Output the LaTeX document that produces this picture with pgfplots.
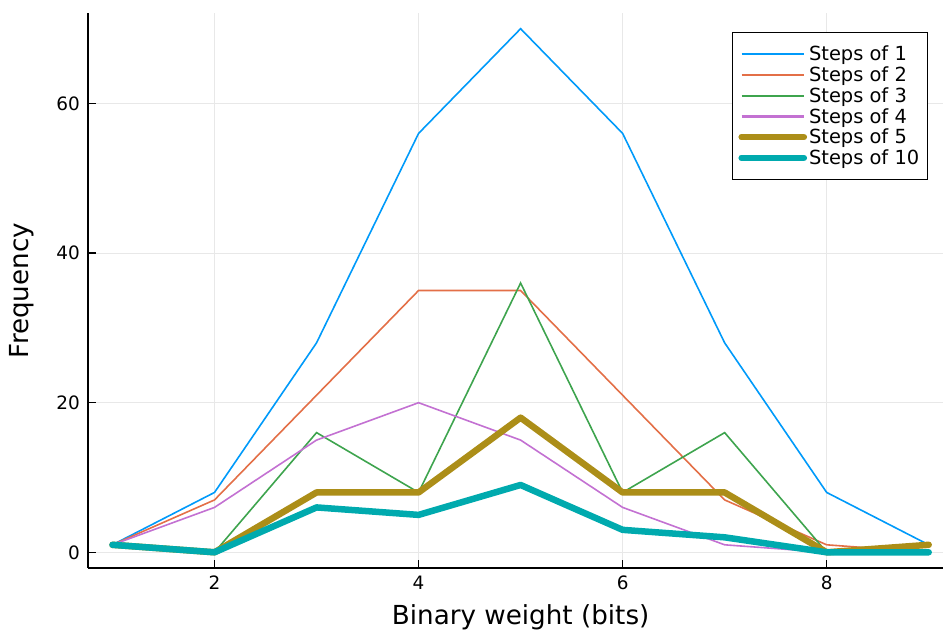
\documentclass[border=0pt]{standalone}
\usepackage{fontspec}
\setmainfont{DejaVu Sans}
\usepackage{pgfplots}
\pgfplotsset{compat=1.18}
\definecolor{c1}{HTML}{009AFA}
\definecolor{c2}{HTML}{E36F47}
\definecolor{c3}{HTML}{3EA44E}
\definecolor{c4}{HTML}{C371D2}
\definecolor{c5}{HTML}{AC8E18}
\definecolor{c6}{HTML}{00AAAE}
\begin{document}
\begin{tikzpicture}
\path[use as bounding box] (0bp,0bp) rectangle (943bp,633bp);
\begin{axis}[
  at={(88bp,65bp)}, anchor=south west,
  scale only axis, width=855bp, height=555bp,
  xmin=0.76, xmax=9.14, ymin=-2.1, ymax=72.1,
  axis lines*=left,
  axis line style={black, line width=1.2bp},
  xtick={2,4,6,8}, ytick={0,20,40,60},
  tick align=inside, major tick length=8bp,
  tick style={black, line width=1.2bp},
  grid=major, major grid style={black!9, line width=0.8bp},
  /pgf/number format/assume math mode=true,
  tick label style={font=\fontsize{18.5}{20}\selectfont},
  xticklabel style={anchor=center, yshift=-15bp, inner sep=0pt},
  yticklabel style={anchor=east, xshift=-8bp, inner sep=0pt},
  xlabel={Binary weight (bits)},
  ylabel={Frequency},
  label style={font=\fontsize{26.3}{28}\selectfont},
  xlabel style={at={(axis description cs:0.506,-0.0883)}, anchor=center},
  ylabel style={at={(axis description cs:-0.0772,0.5)}, anchor=center, rotate=0},
  legend cell align=left,
  legend style={at={(axis description cs:0.7532,0.9658)}, anchor=north west,
    draw=black, line width=1.2bp, font=\fontsize{19.5}{21}\selectfont,
    inner xsep=6bp, inner ysep=11.5bp, row sep=0.5bp},
  legend image code/.code={\path (0bp,0bp) -- (62bp,0bp);\draw[#1] (0bp,0bp) -- (58bp,0bp);},
]
\addplot[c1, line width=1.6bp, legend image post style={line width=2.2bp}] coordinates {(1,1) (2,8) (3,28) (4,56) (5,70) (6,56) (7,28) (8,8) (9,1)};
\addlegendentry{Steps of 1}
\addplot[c2, line width=1.6bp, legend image post style={line width=2.2bp}] coordinates {(1,1) (2,7) (3,21) (4,35) (5,35) (6,21) (7,7) (8,1) (9,0)};
\addlegendentry{Steps of 2}
\addplot[c3, line width=1.6bp, legend image post style={line width=2.2bp}] coordinates {(1,1) (2,0) (3,16) (4,8) (5,36) (6,8) (7,16) (8,0) (9,1)};
\addlegendentry{Steps of 3}
\addplot[c4, line width=1.6bp, legend image post style={line width=2.2bp}] coordinates {(1,1) (2,6) (3,15) (4,20) (5,15) (6,6) (7,1) (8,0) (9,0)};
\addlegendentry{Steps of 4}
\addplot[c5, line width=6.5bp, line cap=round, line join=round] coordinates {(1,1) (2,0) (3,8) (4,8) (5,18) (6,8) (7,8) (8,0) (9,1)};
\addlegendentry{Steps of 5}
\addplot[c6, line width=6.5bp, line cap=round, line join=round] coordinates {(1,1) (2,0) (3,6) (4,5) (5,9) (6,3) (7,2) (8,0) (9,0)};
\addlegendentry{Steps of 10}
\end{axis}
\end{tikzpicture}
\end{document}
